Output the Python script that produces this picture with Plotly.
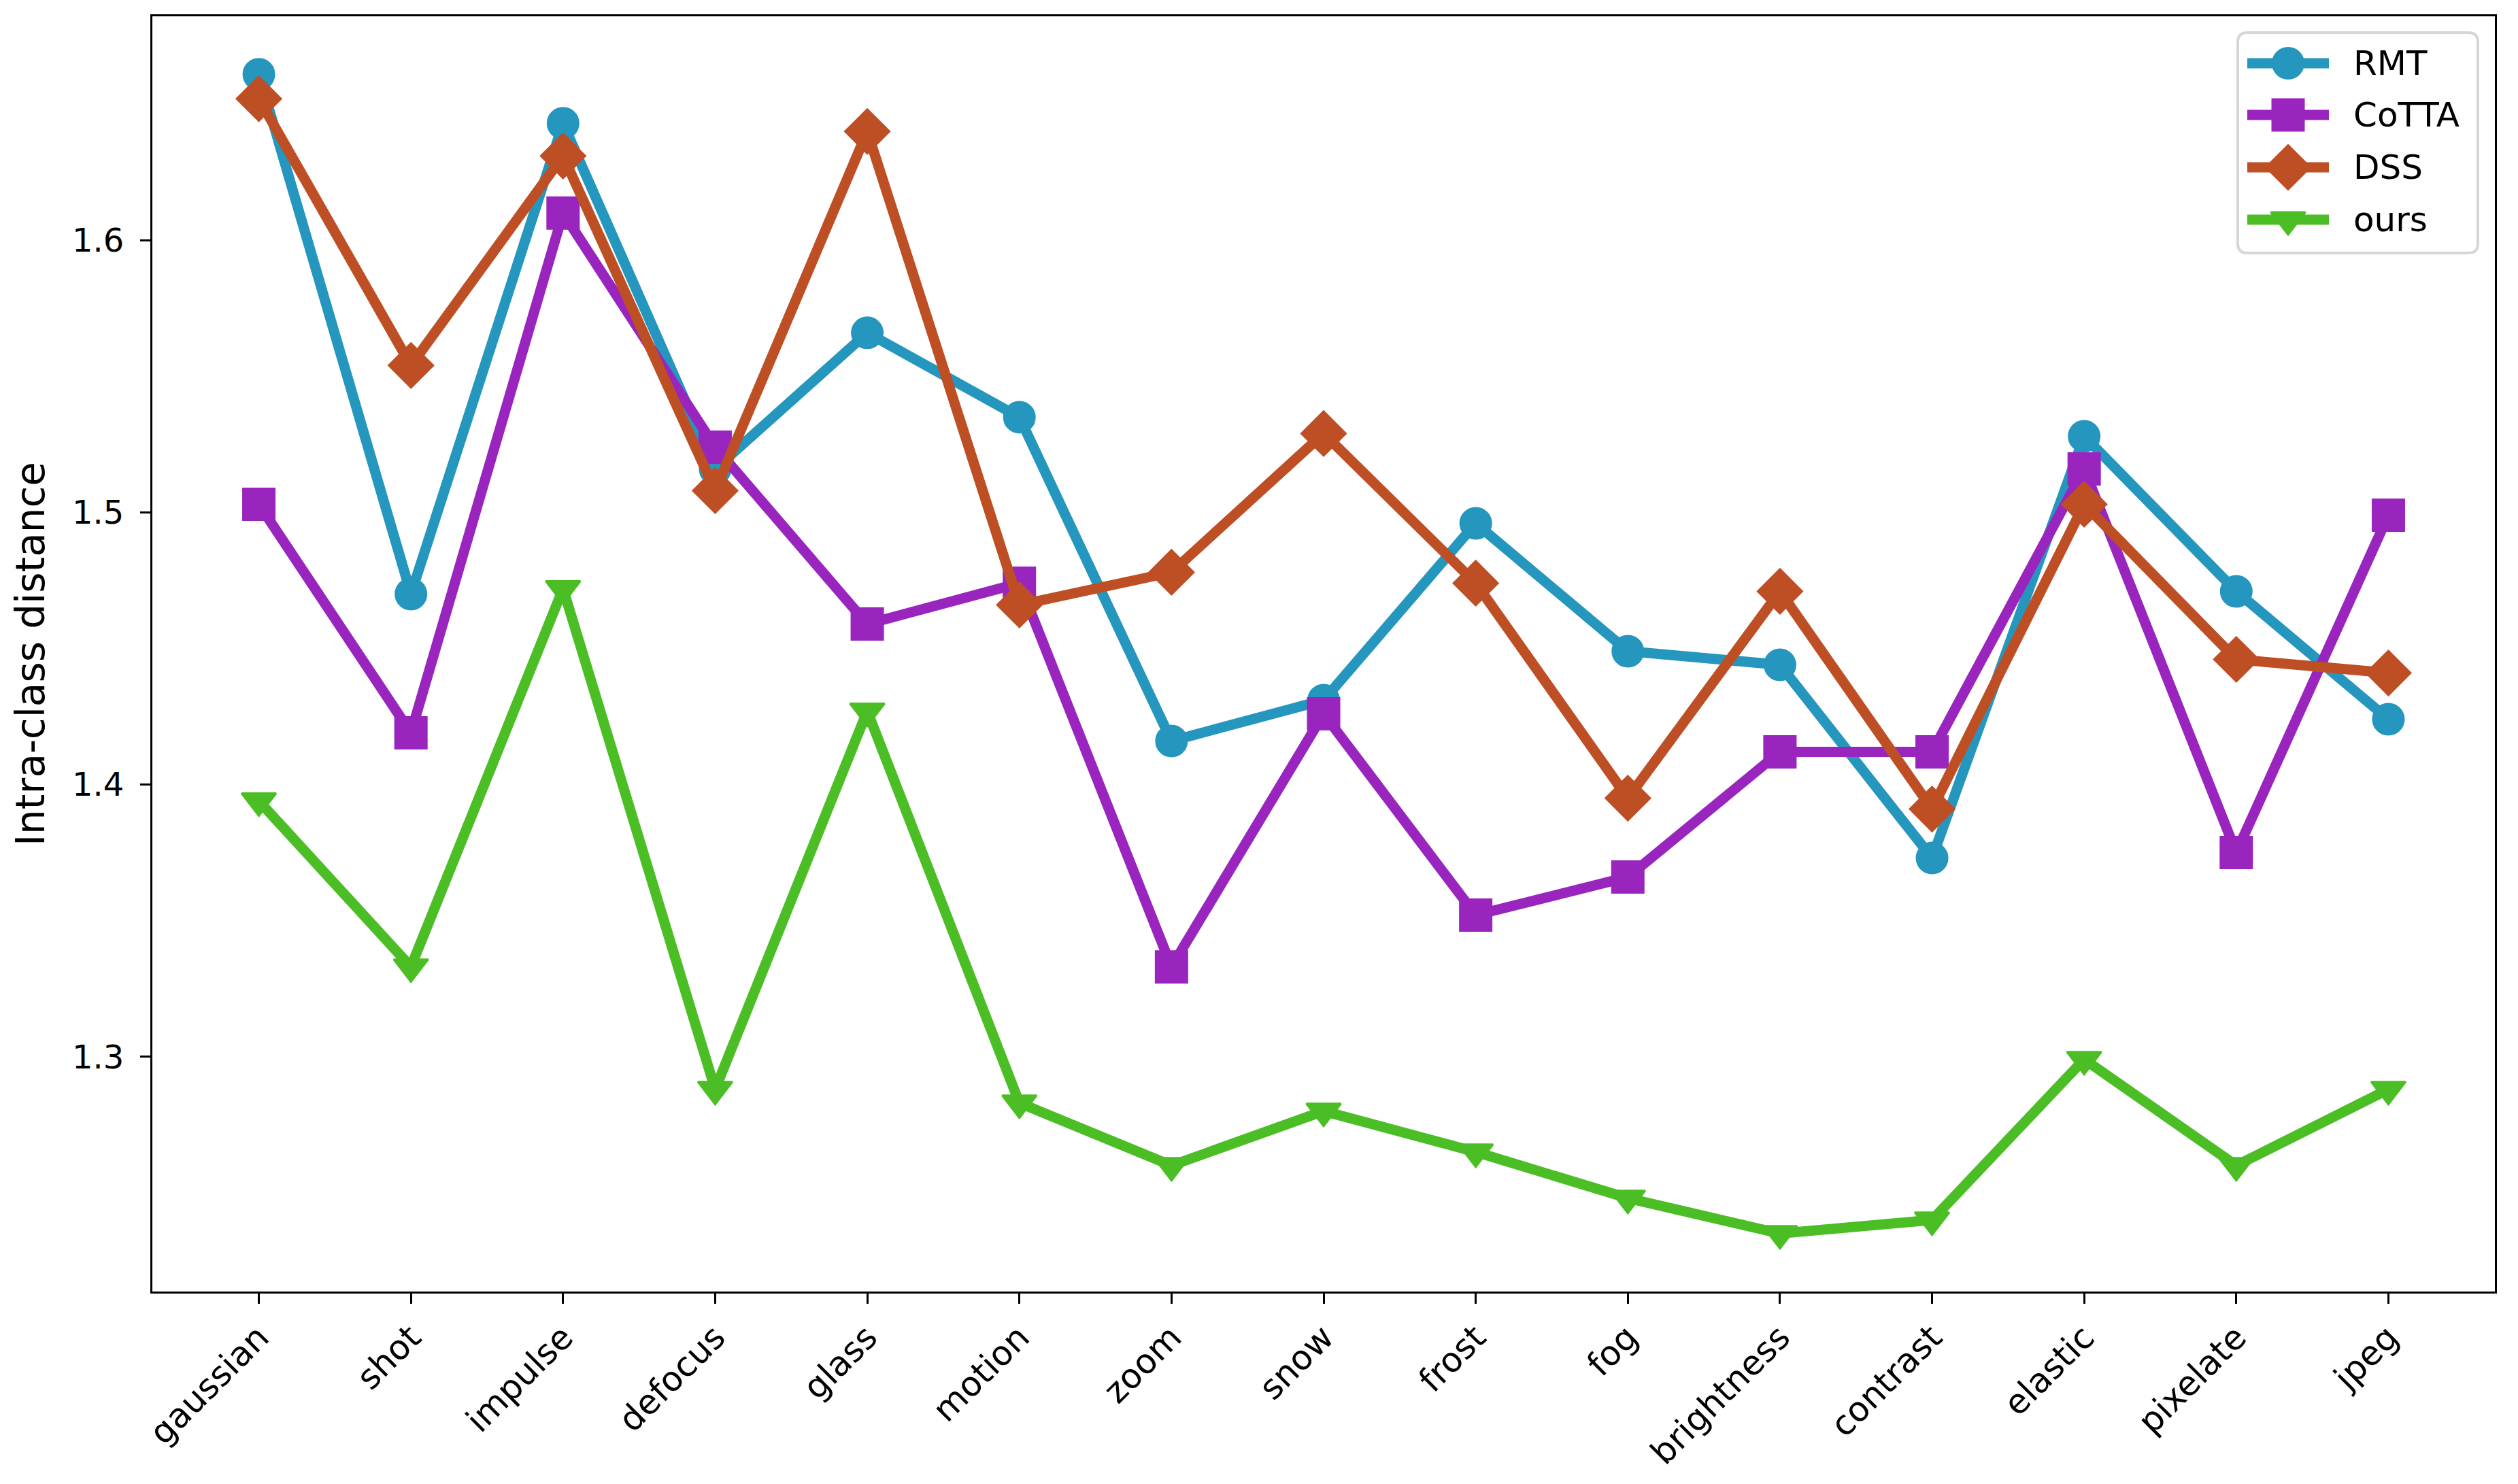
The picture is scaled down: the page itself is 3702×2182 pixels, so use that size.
import plotly.graph_objects as go

categories = ["gaussian", "shot", "impulse", "defocus", "glass", "motion", "zoom", "snow",
              "frost", "fog", "brightness", "contrast", "elastic", "pixelate", "jpeg"]

rmt = [1.661, 1.470, 1.643, 1.516, 1.566, 1.535, 1.416, 1.431, 1.496, 1.449, 1.444, 1.373, 1.528, 1.471, 1.424]
cotta = [1.503, 1.419, 1.610, 1.524, 1.459, 1.474, 1.333, 1.426, 1.352, 1.366, 1.412, 1.412, 1.516, 1.375, 1.499]
dss = [1.652, 1.554, 1.631, 1.508, 1.640, 1.466, 1.478, 1.529, 1.474, 1.395, 1.471, 1.391, 1.503, 1.446, 1.441]
ours = [1.394, 1.333, 1.472, 1.288, 1.427, 1.283, 1.260, 1.280, 1.265, 1.248, 1.235, 1.240, 1.299, 1.260, 1.288]

y_ticks = [1.3, 1.4, 1.5, 1.6]
y_tick_labels = ["1.3", "1.4", "1.5", "1.6"]

series = [
    ("RMT", rmt, "#2596BE", "circle", 45),
    ("CoTTA", cotta, "#9925BE", "square", 46),
    ("DSS", dss, "#BE4F25", "diamond", 50),
    ("ours", ours, "#4CBE25", "triangle-down", 44),
]

FONT = "DejaVu Sans"
W, H = 3702, 2182
L, R, T, B = 224, 3668, 24, 1899


def X(p):
    return (p - L) / (R - L)


def Y(p):
    return 1 - (p - T) / (B - T)


fig = go.Figure()
for name, vals, color, sym, size in series:
    fig.add_trace(go.Scatter(
        x=categories, y=vals, mode="lines+markers", name=name,
        line=dict(color=color, width=15),
        marker=dict(symbol=sym, size=size, color=color, opacity=1, line=dict(color=color, width=3)),
        showlegend=False, cliponaxis=False,
    ))

# matplotlib-style legend box
bx0, bx1, by0, by1, r = 3290, 3643, 48, 372, 14
path = (f"M {X(bx0+r)},{Y(by0)} L {X(bx1-r)},{Y(by0)} Q {X(bx1)},{Y(by0)} {X(bx1)},{Y(by0+r)} "
        f"L {X(bx1)},{Y(by1-r)} Q {X(bx1)},{Y(by1)} {X(bx1-r)},{Y(by1)} "
        f"L {X(bx0+r)},{Y(by1)} Q {X(bx0)},{Y(by1)} {X(bx0)},{Y(by1-r)} "
        f"L {X(bx0)},{Y(by0+r)} Q {X(bx0)},{Y(by0)} {X(bx0+r)},{Y(by0)} Z")
shapes = [dict(type="path", xref="paper", yref="paper", path=path,
               line=dict(color="#D6D6D6", width=4), fillcolor="rgba(255,255,255,0.8)", layer="below")]
annotations = []
row_y = [93, 169, 246, 323]
for (name, vals, color, sym, size), yc in zip(series, row_y):
    fig.add_trace(go.Scatter(
        x=[X(3304), X(3424)], y=[Y(yc)] * 2, xaxis="x2", yaxis="y2",
        mode="lines", line=dict(color=color, width=15),
        showlegend=False, hoverinfo="skip", cliponaxis=False,
    ))
    fig.add_trace(go.Scatter(
        x=[X(3364)], y=[Y(yc)], xaxis="x2", yaxis="y2",
        mode="markers",
        marker=dict(symbol=sym, size=size, color=color, opacity=1, line=dict(color=color, width=3)),
        showlegend=False, hoverinfo="skip", cliponaxis=False,
    ))
    annotations.append(dict(xref="paper", yref="paper", x=X(3458), y=Y(yc), text=name,
                            showarrow=False, xanchor="left", yanchor="middle",
                            font=dict(family=FONT, size=50, color="black")))

lo, hi = min(min(s[1]) for s in series), max(max(s[1]) for s in series)
pad = 0.05 * (hi - lo)

fig.update_layout(
    width=W, height=H, autosize=False,
    margin=dict(l=L, r=W - R, t=T, b=H - B, autoexpand=False),
    paper_bgcolor="white", plot_bgcolor="white",
    font=dict(family=FONT, size=50, color="black"),
    showlegend=False,
    shapes=shapes, annotations=annotations,
    xaxis=dict(type="category", categoryorder="array", categoryarray=categories,
               range=[-0.7, len(categories) - 0.3], tickangle=-45, automargin=False,
               showline=True, linecolor="black", linewidth=3, mirror=True,
               ticks="outside", ticklen=15, tickwidth=3, tickcolor="black",
               showgrid=False, zeroline=False,
               tickfont=dict(family=FONT, size=50)),
    yaxis=dict(range=[lo - pad, hi + pad], tickvals=y_ticks, ticktext=y_tick_labels, automargin=False,
               showline=True, linecolor="black", linewidth=3, mirror=True,
               ticks="outside", ticklen=15, tickwidth=3, tickcolor="black",
               showgrid=False, zeroline=False, ticklabelstandoff=14,
               tickfont=dict(family=FONT, size=48),
               title=dict(text="Intra-class distance", font=dict(family=FONT, size=58), standoff=22)),
    xaxis2=dict(overlaying="x", range=[0, 1], visible=False, domain=[0, 1]),
    yaxis2=dict(overlaying="y", range=[0, 1], visible=False, domain=[0, 1]),
)

fig.write_html("out.html", config={"displayModeBar": False},
               post_script="document.body.style.margin='0';document.body.style.overflow='hidden';")
